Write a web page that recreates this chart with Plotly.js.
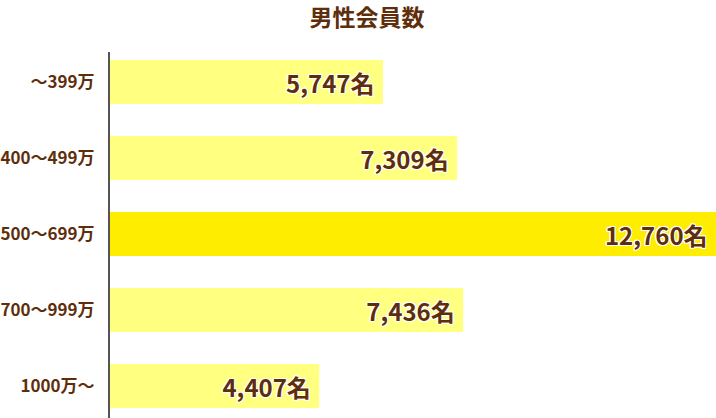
<!DOCTYPE html>
<html>
<head>
<meta charset="utf-8">
<script src="https://cdn.plot.ly/plotly-3.0.1.min.js"></script>
<style>html,body{margin:0;padding:0;background:#fff;}#chart{width:716px;height:418px;}</style>
</head>
<body>
<div id="chart"></div>
<script>
const categories = ["～399万", "400～499万", "500～699万", "700～999万", "1000万～"];
const maleMembers = [5747, 7309, 12760, 7436, 4407];
const highlightIndex = 2;

const brown = "#5e2e0c";
const outline = "1px 1px 0 #fff, -1px -1px 0 #fff, 1px -1px 0 #fff, -1px 1px 0 #fff, 0 1px 0 #fff, 0 -1px 0 #fff, 1px 0 0 #fff, -1px 0 0 #fff";

const colors = categories.map((c, i) => i === highlightIndex ? "#ffed00" : "#ffff80");

const trace = {
  type: "bar",
  orientation: "h",
  x: maleMembers,
  y: categories,
  width: 0.58,
  marker: {color: colors, line: {width: 0}},
  texttemplate: "%{x:,}名\u00a0",
  textposition: "inside",
  insidetextanchor: "end",
  constraintext: "none",
  textangle: 0,
  insidetextfont: {family: "Noto Sans CJK JP, sans-serif", size: 24, color: brown, weight: 700, shadow: outline},
  hoverinfo: "none"
};

const layout = {
  width: 716,
  height: 418,
  margin: {l: 110, r: 0, t: 52, b: 0},
  paper_bgcolor: "#fff",
  plot_bgcolor: "#fff",
  showlegend: false,
  title: {
    text: "男性会員数",
    font: {family: "Noto Sans CJK JP, sans-serif", size: 23, color: brown, weight: 700},
    x: 367 / 716, xref: "container", xanchor: "center",
    y: 1 - 18 / 418, yref: "container", yanchor: "middle"
  },
  xaxis: {visible: false, range: [0, 12760], fixedrange: true},
  yaxis: {
    type: "category",
    categoryorder: "array",
    categoryarray: categories,
    range: [4.42, -0.395],
    showline: true,
    linecolor: "#555",
    linewidth: 2,
    showgrid: false,
    zeroline: false,
    ticks: "",
    ticklabelstandoff: 10,
    tickfont: {family: "Noto Sans CJK JP, sans-serif", size: 17, color: brown, weight: 700}
  }
};

Plotly.newPlot("chart", [trace], layout, {displayModeBar: false, staticPlot: true});
</script>
</body>
</html>
